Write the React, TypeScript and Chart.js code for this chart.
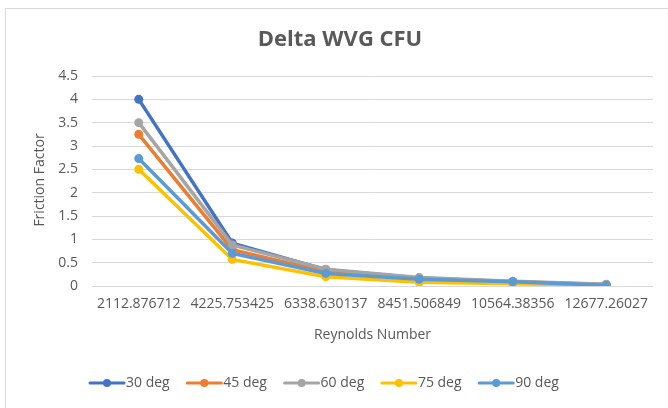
import React, { useEffect, useRef } from "react";
import { Chart, registerables } from "chart.js";

Chart.register(...registerables);

const categories = ["2112.876712", "4225.753425", "6338.630137", "8451.506849", "10564.38356", "12677.26027"];
const seriesNames = ["30 deg", "45 deg", "60 deg", "75 deg", "90 deg"];
const deg30 = [4.0, 0.92, 0.35, 0.17, 0.09, 0.03];
const deg45 = [3.25, 0.78, 0.3, 0.15, 0.08, 0.025];
const deg60 = [3.5, 0.88, 0.36, 0.18, 0.1, 0.035];
const deg75 = [2.5, 0.57, 0.2, 0.08, 0.05, 0.015];
const deg90 = [2.73, 0.7, 0.27, 0.145, 0.09, 0.015];
const seriesValues = [deg30, deg45, deg60, deg75, deg90];
const colors = ["#4472C4", "#ED7D31", "#A5A5A5", "#FFC000", "#5B9BD5"];
const titleText = "Delta WVG CFU";
const xTitle = "Reynolds Number";
const yTitle = "Friction Factor";

const FONT = "'Open Sans', 'Noto Sans', sans-serif";
const TEXT = "#595959";

const decorPlugin = {
  id: "decor",
  beforeDraw(chart: any) {
    const ctx = chart.ctx;
    ctx.save();
    ctx.fillStyle = "#ffffff";
    ctx.fillRect(0, 0, chart.width, chart.height);
    ctx.strokeStyle = "#d9d9d9";
    ctx.lineWidth = 1;
    ctx.strokeRect(5.5, 8.5, chart.width + 10, chart.height + 10);
    ctx.restore();
  },
  afterDraw(chart: any) {
    const ctx = chart.ctx;
    const area = chart.chartArea;
    ctx.save();
    ctx.fillStyle = TEXT;
    ctx.textAlign = "center";
    ctx.textBaseline = "middle";
    ctx.font = `bold 22px ${FONT}`;
    ctx.fillText(titleText, 340, 40);
    ctx.font = `14px ${FONT}`;
    ctx.fillText(xTitle, (area.left + area.right) / 2, 335);
    ctx.save();
    ctx.translate(40, 180);
    ctx.rotate(-Math.PI / 2);
    ctx.fillText(yTitle, 0, 0);
    ctx.restore();
    // legend
    const ly = 383;
    chart.data.datasets.forEach((ds: any, i: number) => {
      const x0 = 89 + i * 97.3;
      ctx.strokeStyle = ds.borderColor;
      ctx.lineWidth = 3;
      ctx.lineCap = "round";
      ctx.beginPath();
      ctx.moveTo(x0 + 1, ly);
      ctx.lineTo(x0 + 35, ly);
      ctx.stroke();
      ctx.fillStyle = ds.borderColor;
      ctx.beginPath();
      ctx.arc(x0 + 18, ly, 4, 0, Math.PI * 2);
      ctx.fill();
      ctx.fillStyle = TEXT;
      ctx.textAlign = "left";
      ctx.font = `14px ${FONT}`;
      ctx.fillText(ds.label, x0 + 37, ly);
    });
    ctx.restore();
  },
};

export default function App() {
  const ref = useRef<HTMLCanvasElement | null>(null);
  useEffect(() => {
    document.body.style.margin = "0";
    const canvas = ref.current;
    if (!canvas) return;
    const chart = new Chart(canvas, {
      type: "line",
      data: {
        labels: categories,
        datasets: seriesNames.map((name, i) => ({
          label: name,
          data: seriesValues[i],
          borderColor: colors[i],
          backgroundColor: colors[i],
          borderWidth: 3.5,
          pointRadius: 4.5,
          pointHoverRadius: 4.5,
          pointBackgroundColor: colors[i],
          pointBorderWidth: 0,
          tension: 0,
          order: 4 - i,
        })),
      },
      options: {
        responsive: false,
        animation: false,
        devicePixelRatio: 1,
        layout: { padding: { left: 0, right: 15, top: 76, bottom: 0 } },
        plugins: {
          legend: { display: false },
          title: { display: false },
          tooltip: { enabled: false },
        },
        scales: {
          x: {
            type: "category",
            offset: true,
            grid: { display: false, drawTicks: false, tickLength: 0 },
            border: { display: false },
            ticks: {
              color: TEXT,
              font: { family: FONT, size: 14 },
              maxRotation: 0,
              minRotation: 0,
              autoSkip: false,
              padding: 10,
            },
            afterFit: (scale: any) => {
              scale.height = 122;
            },
          },
          y: {
            min: 0,
            max: 4.5,
            grid: { color: "#d9d9d9", lineWidth: 1, drawTicks: false, tickLength: 0 },
            border: { display: false },
            ticks: {
              stepSize: 0.5,
              color: TEXT,
              font: { family: FONT, size: 14 },
              padding: 14,
              callback: (v: any) => String(Number(v)),
            },
            afterFit: (scale: any) => {
              scale.width = 92;
            },
          },
        },
      },
      plugins: [decorPlugin],
    });
    return () => chart.destroy();
  }, []);
  return (
    <div style={{ width: 668, height: 408 }}>
      <canvas ref={ref} width={668} height={408} style={{ width: 668, height: 408, display: "block" }} />
    </div>
  );
}
